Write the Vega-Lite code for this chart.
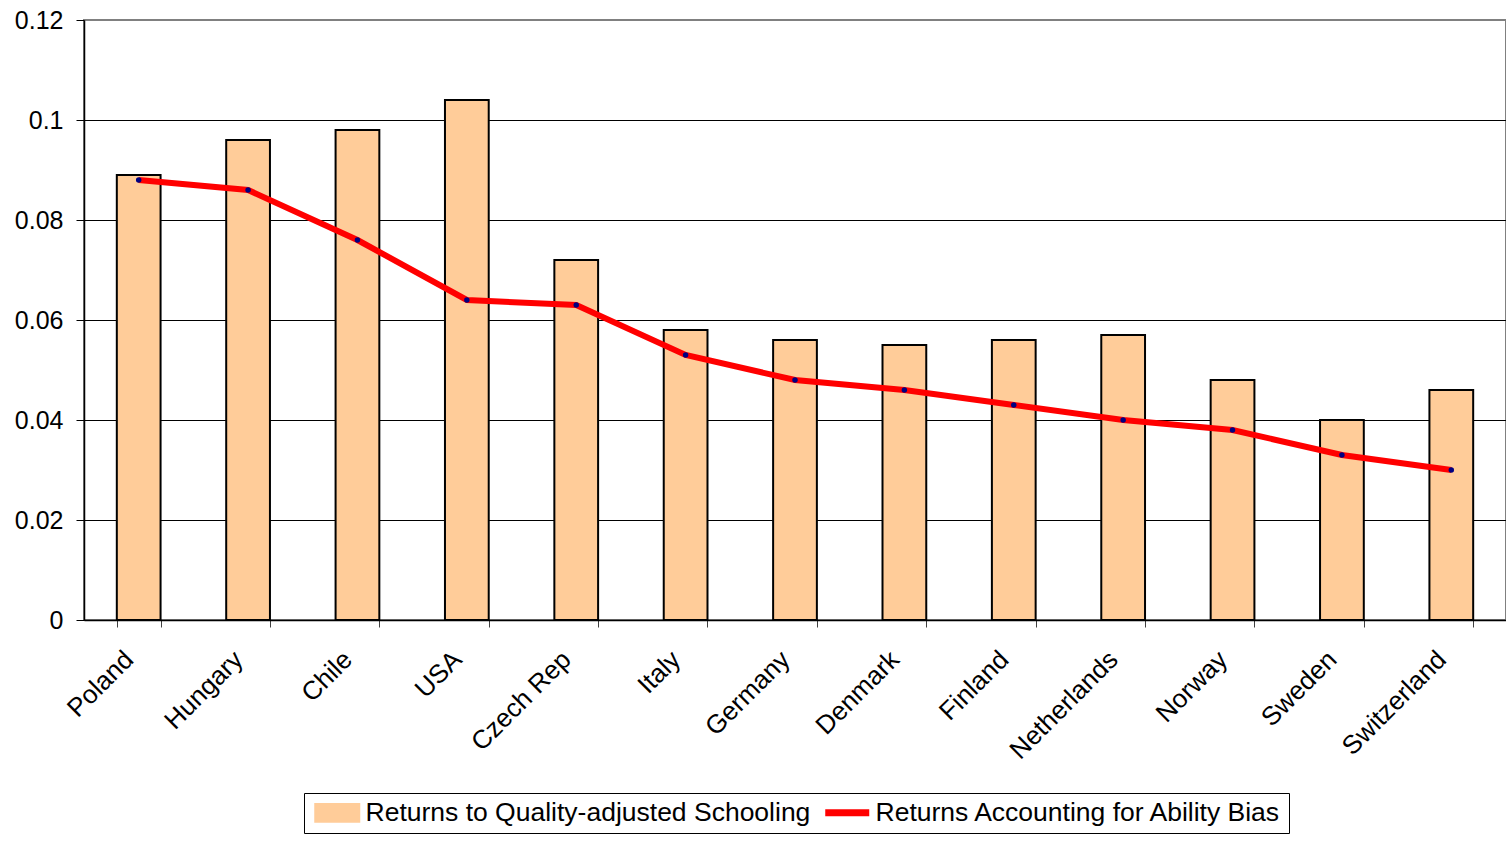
{
  "$schema": "https://vega.github.io/schema/vega-lite/v6.json",
  "width": 1422,
  "height": 600,
  "padding": {"left": 14, "top": 8, "right": 0, "bottom": 0},
  "background": "white",
  "config": {
    "font": "Liberation Sans",
    "view": {"stroke": "#808080", "strokeWidth": 2},
    "axis": {"labelFont": "Liberation Sans", "labelColor": "black"}
  },
  "data": {
    "values": [
      {"country": "Poland", "series": "Returns to Quality-adjusted Schooling", "value": 0.089},
      {"country": "Hungary", "series": "Returns to Quality-adjusted Schooling", "value": 0.096},
      {"country": "Chile", "series": "Returns to Quality-adjusted Schooling", "value": 0.098},
      {"country": "USA", "series": "Returns to Quality-adjusted Schooling", "value": 0.104},
      {"country": "Czech Rep", "series": "Returns to Quality-adjusted Schooling", "value": 0.072},
      {"country": "Italy", "series": "Returns to Quality-adjusted Schooling", "value": 0.058},
      {"country": "Germany", "series": "Returns to Quality-adjusted Schooling", "value": 0.056},
      {"country": "Denmark", "series": "Returns to Quality-adjusted Schooling", "value": 0.055},
      {"country": "Finland", "series": "Returns to Quality-adjusted Schooling", "value": 0.056},
      {"country": "Netherlands", "series": "Returns to Quality-adjusted Schooling", "value": 0.057},
      {"country": "Norway", "series": "Returns to Quality-adjusted Schooling", "value": 0.048},
      {"country": "Sweden", "series": "Returns to Quality-adjusted Schooling", "value": 0.040},
      {"country": "Switzerland", "series": "Returns to Quality-adjusted Schooling", "value": 0.046},
      {"country": "Poland", "series": "Returns Accounting for Ability Bias", "value": 0.088},
      {"country": "Hungary", "series": "Returns Accounting for Ability Bias", "value": 0.086},
      {"country": "Chile", "series": "Returns Accounting for Ability Bias", "value": 0.076},
      {"country": "USA", "series": "Returns Accounting for Ability Bias", "value": 0.064},
      {"country": "Czech Rep", "series": "Returns Accounting for Ability Bias", "value": 0.063},
      {"country": "Italy", "series": "Returns Accounting for Ability Bias", "value": 0.053},
      {"country": "Germany", "series": "Returns Accounting for Ability Bias", "value": 0.048},
      {"country": "Denmark", "series": "Returns Accounting for Ability Bias", "value": 0.046},
      {"country": "Finland", "series": "Returns Accounting for Ability Bias", "value": 0.043},
      {"country": "Netherlands", "series": "Returns Accounting for Ability Bias", "value": 0.040},
      {"country": "Norway", "series": "Returns Accounting for Ability Bias", "value": 0.038},
      {"country": "Sweden", "series": "Returns Accounting for Ability Bias", "value": 0.033},
      {"country": "Switzerland", "series": "Returns Accounting for Ability Bias", "value": 0.030}
    ]
  },
  "encoding": {
    "x": {
      "field": "country", "type": "nominal", "sort": null, "title": null,
      "scale": {"paddingInner": 0.6, "paddingOuter": 0.3},
      "axis": {
        "labelAngle": -45, "tickBand": "extent", "domainColor": "black", "domainWidth": 1.5,
        "tickColor": "#404040", "tickSize": 7, "labelPadding": 19, "labelOffset": -19,
        "labelFontSize": 26, "grid": false
      }
    },
    "y": {
      "field": "value", "type": "quantitative", "title": null,
      "scale": {"domain": [0, 0.12], "nice": false},
      "axis": {
        "values": [0, 0.02, 0.04, 0.06, 0.08, 0.1, 0.12], "format": ".2~f",
        "labelFontSize": 25,
        "domainColor": "black", "domainWidth": 1.5, "tickColor": "black", "tickSize": 8,
        "labelPadding": 13,
        "gridColor": {"condition": {"test": "datum.value >= 0.119", "value": "#808080"}, "value": "black"},
        "gridWidth": 1
      }
    },
    "color": {
      "field": "series", "type": "nominal", "title": null,
      "scale": {"domain": ["Returns to Quality-adjusted Schooling", "Returns Accounting for Ability Bias"], "range": ["#FFCC99", "#FF0000"]},
      "legend": {
        "orient": "none", "legendX": 220, "legendY": 773, "direction": "horizontal",
        "strokeColor": "black", "padding": 6, "labelFontSize": 26.5, "labelColor": "black",
        "labelFont": "Liberation Sans", "labelLimit": 700, "symbolSize": 1936, "columnPadding": 0,
        "labelOffset": 15, "symbolOffset": 14,
        "symbolOpacity": 1,
        "encode": {
          "symbols": {
            "update": {
              "shape": {"signal": "datum.value === 'Returns to Quality-adjusted Schooling' ? 'M-1,-0.4H1V0.4H-1Z' : 'stroke'"},
              "stroke": {"signal": "datum.value === 'Returns to Quality-adjusted Schooling' ? 'black' : '#FF0000'"},
              "fill": {"signal": "datum.value === 'Returns to Quality-adjusted Schooling' ? '#FFCC99' : 'transparent'"},
              "strokeWidth": {"signal": "datum.value === 'Returns to Quality-adjusted Schooling' ? 2 : 7"}
            }
          }
        }
      }
    }
  },
  "layer": [
    {
      "transform": [{"filter": "datum.series === 'Returns to Quality-adjusted Schooling'"}],
      "mark": {"type": "bar", "stroke": "black", "strokeWidth": 2}
    },
    {
      "transform": [{"filter": "datum.series === 'Returns Accounting for Ability Bias'"}],
      "mark": {"type": "line", "strokeWidth": 6}
    },
    {
      "transform": [{"filter": "datum.series === 'Returns Accounting for Ability Bias'"}],
      "mark": {"type": "point", "filled": true, "size": 30, "opacity": 1},
      "encoding": {"color": {"value": "#000080"}}
    }
  ]
}
